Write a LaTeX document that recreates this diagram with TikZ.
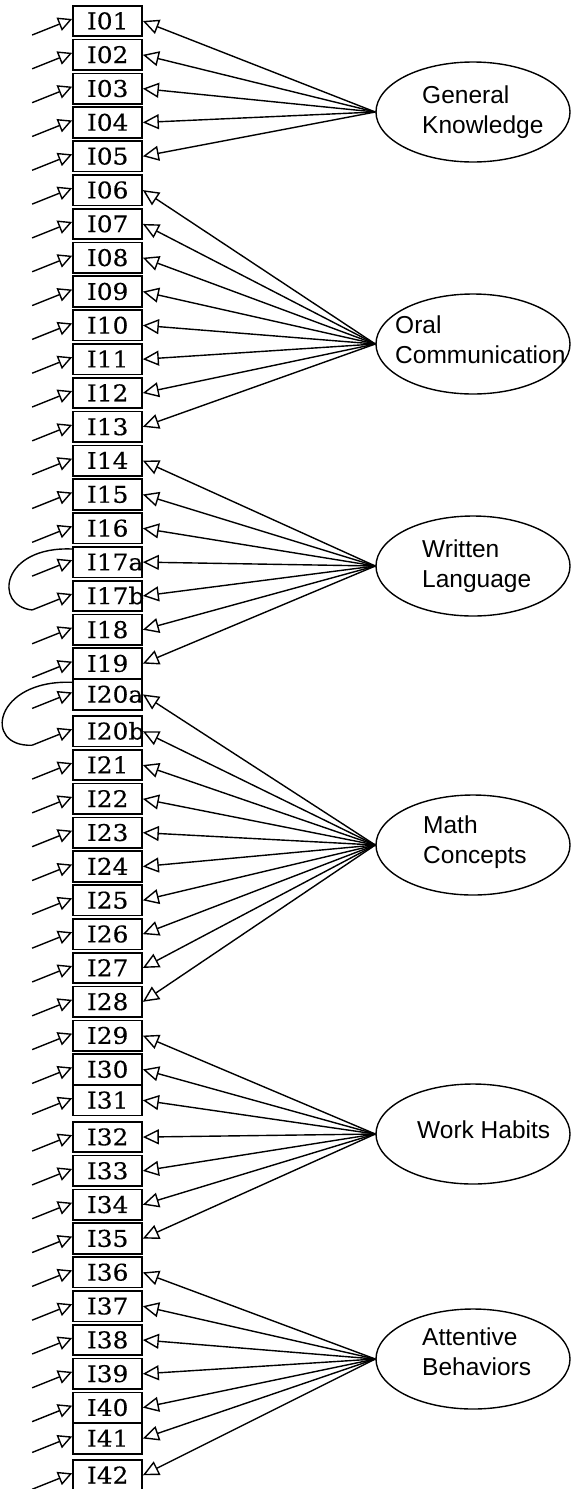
\documentclass[tikz,border=0pt]{standalone}
\usepackage{fontspec}
\setmainfont{DejaVu Serif}[FakeStretch=1.08, FakeBold=0.3]
\newfontfamily\latentfont{Liberation Sans}
\usetikzlibrary{arrows.meta,shapes.geometric,calc}

\begin{document}
\begin{tikzpicture}[x=1pt,y=-1pt,
  item/.style={draw, line width=1.7pt, fill=white, minimum width=69pt,
    minimum height=30.5pt, text width=41pt, inner xsep=14pt, inner ysep=0pt,
    align=left, text height=16.5pt, text depth=0pt,
    font=\fontsize{23}{27}\selectfont},
  factor/.style={draw, ellipse, line width=1.4pt, minimum width=194pt,
    minimum height=100pt, inner sep=0pt},
  factorname/.style={anchor=base west, align=left, inner sep=0pt,
    font=\latentfont\fontsize{24.5}{30}\selectfont},
  load/.style={-{Triangle[open, length=16pt, width=15pt]}, line width=1.4pt},
  err/.style={-{Triangle[open, length=14pt, width=14pt]}, line width=1.4pt},
  cov/.style={line width=1.4pt}]
\useasboundingbox (0,0) rectangle (572,1489);

% observed items, stacked in one column
\foreach \lab [count=\i] in {I01,I02,I03,I04,I05,I06,I07,I08,I09,I10,
    I11,I12,I13,I14,I15,I16,I17a,I17b,I18,I19,I20a,I20b,I21,I22,I23,I24,
    I25,I26,I27,I28,I29,I30,I31,I32,I33,I34,I35,I36,I37,I38,I39,I40,I41,I42} {
  \pgfmathsetmacro{\up}{(\i==21 || \i==33 || \i==43) ? 3 : 0}
  \pgfmathsetmacro{\cy}{21 + 33.82*(\i-1) - \up}
  \node[item] (b\i) at (107.5,\cy) {\lab};
}

% latent factors (labels anchored on the baseline of their last line)
\node[factor] (gk) at (473,112) {};
\node[factorname] (gkt) at (422,133) {General\\Knowledge};
\node[factor] (oc) at (473,344) {};
\node[factorname] (oct) at (395,363) {Oral\\Communication};
\node[factor] (wl) at (473,566) {};
\node[factorname] (wlt) at (422,587) {Written\\Language};
\node[factor] (mc) at (473,845) {};
\node[factorname] (mct) at (423,863) {Math\\Concepts};
\node[factor] (wh) at (473,1134) {};
\node[factorname] (wht) at (417,1138) {Work Habits};
\node[factor] (ab) at (473,1359) {};
\node[factorname] (abt) at (422,1375) {Attentive\\Behaviors};

% factor loadings
\foreach \i in {1,...,5}   \draw[load] (gk.west) -- (b\i.east);
\foreach \i in {6,...,13}  \draw[load] (oc.west) -- (b\i.east);
\foreach \i in {14,...,20} \draw[load] (wl.west) -- (b\i.east);
\foreach \i in {21,...,30} \draw[load] (mc.west) -- (b\i.east);
\foreach \i in {31,...,37} \draw[load] (wh.west) -- (b\i.east);
\foreach \i in {38,...,44} \draw[load] (ab.west) -- (b\i.east);

% residual terms
\foreach \i in {1,...,44} {
  \coordinate (e\i) at ($(b\i.west)+(-40,14)$);
  \draw[err] (e\i) -- ([yshift=2pt]b\i.west);
}

% correlated residuals
\draw[cov] ([yshift=-3pt]b17.north west) .. controls +(-71,-3) and +(-39,-4) .. (e18);
\draw[cov] ([yshift=-4pt]b21.north west) .. controls +(-78,-3) and +(-50,2) .. (e22);
\end{tikzpicture}
\end{document}
